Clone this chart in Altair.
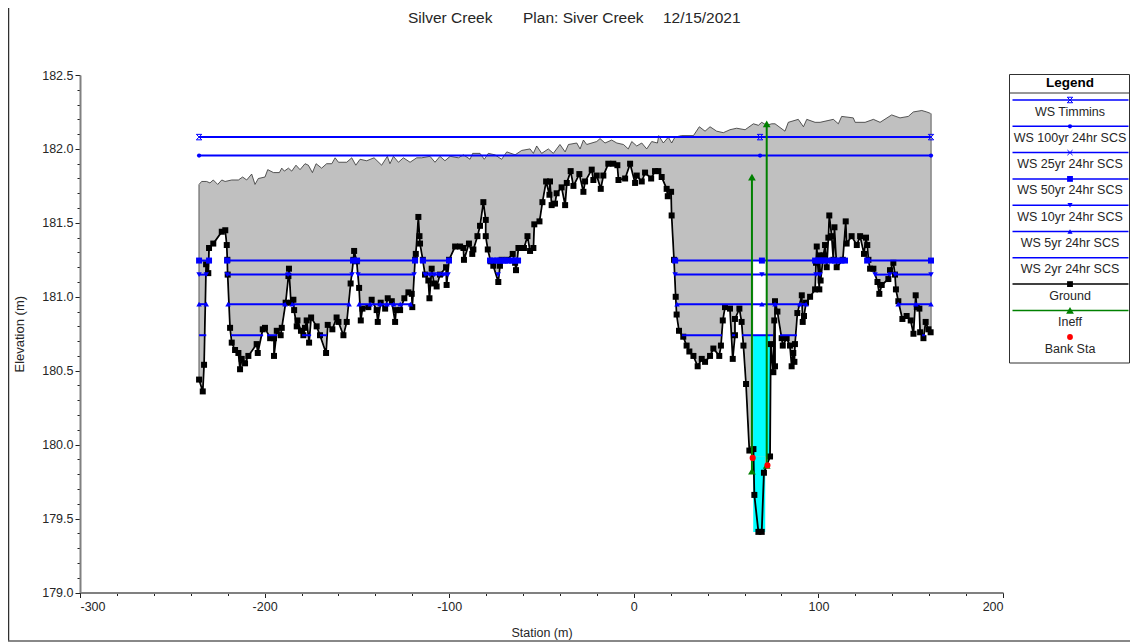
import altair as alt
import pandas as pd

ground_station = [-235.5,-233.5,-232.8,-231.7,-230.5,-230.1,-227.8,-223.2,-221.3,-220.5,-220.2,-220,-218.7,-217.8,-216,-214.2,-213.3,-212.4,-210.6,-208.8,-204.3,-203.7,-201,-199.8,-197,-194.9,-194.9,-193.4,-191.3,-190.7,-188.6,-187.1,-186.8,-185.7,-184.4,-184,-182.6,-182.2,-180.3,-179,-178.1,-177.2,-175.9,-174.8,-171.8,-170,-166.7,-165.8,-163.3,-161,-160,-157.3,-155.5,-153.4,-151.9,-151.5,-150.1,-148.8,-147.9,-147,-143.8,-142,-139.3,-138.7,-137.1,-134.7,-133.3,-131.1,-129.3,-128.8,-126.6,-124.3,-122.1,-120.3,-120,-118.5,-118.1,-116.7,-116.1,-115.8,-114.3,-113.1,-111.3,-110.7,
-109.5,-108.2,-106.8,-105,-101.7,-101.4,-100.1,-96.8,-94.1,-92.3,-92,-89.3,-87.5,-86.9,-84.7,-83.3,-81.5,-80.2,-80.2,-79.1,-77.5,-76.1,-73.4,-72.5,-71.6,-68.5,-65.6,-64.3,-63.8,-62.5,-59.5,-57.6,-56.2,-54.4,-53.9,-51.1,-49.5,-47.5,-45.7,-45.4,-44.5,-42.7,-41.8,-39.1,-37.2,-36.3,-34.2,-32.7,-29.5,-27.3,-26.4,-22.8,-21.9,-20.1,-17.9,-16.5,-13.8,-11.1,-8.9,-8.3,-4.7,-2,0.7,1.6,4.3,6.1,9.4,11.5,13.3,
15.1,17.8,18.4,20.2,20.5,21.8,22.7,23.2,24.5,26.8,28.6,30.1,32.3,34.6,36.8,38.6,41.3,43.1,46.3,47.2,48.2,49.4,52.1,53.6,54.8,54.8,57.2,58.4,59.4,60.8,62.6,64.8,65.3,67.5,69.3,70.5,73.8,74.2,75.6,76.1,76.5,76.5,77.8,80.1,80.7,82.8,84.6,85.5,86.4,87,87.3,88.6,91,91.5,92.2,93.3,95.5,98.2,98.7,99.1,100.5,100.5,101.2,102.7,103.6,104.5,105.4,105.9,107.2,108.1,108.7,109.9,113.2,114.8,115.3,118,120.8,122.6,124.7,125.8,126.5,127.1,128,129.8,132,133,134.3,137.9,138.8,140.6,141.5,142,143.3,145.5,147.8,150,151.5,152.7,153.3,154.7,155.1,156.9,158.1,159.6,160.8]
ground_elev = [180.44,180.36,180.54,181.22,181.16,181.33,181.36,181.44,181.45,181.35,181.25,181.15,180.79,180.69,180.64,180.62,180.51,180.58,180.55,180.60,180.68,180.62,180.78,180.79,180.72,180.72,180.60,180.77,180.74,180.79,180.96,181.14,181.19,180.96,180.98,180.91,180.80,180.84,180.77,180.74,180.79,180.84,180.69,180.86,180.80,180.74,180.62,180.81,180.78,180.86,180.83,180.74,180.83,181.09,181.25,181.31,181.24,181.06,180.84,180.92,180.93,180.98,180.91,180.83,180.96,180.92,180.99,180.97,180.83,180.91,180.91,180.99,181.03,181.02,180.93,181.25,181.29,181.54,181.41,181.36,181.25,181.15,181.11,180.99,
181.19,181.09,181.07,181.15,181.20,181.08,181.25,181.34,181.34,181.33,181.25,181.36,181.29,181.32,181.41,181.48,181.64,181.52,181.41,181.32,181.24,181.21,181.10,181.21,181.25,181.25,181.29,181.23,181.18,181.33,181.33,181.41,181.31,181.33,181.49,181.51,181.64,181.78,181.69,181.78,181.62,181.63,181.70,181.74,181.62,181.77,181.85,181.75,181.83,181.71,181.78,181.86,181.79,181.82,181.73,181.82,181.90,181.90,181.89,181.79,181.80,181.90,181.77,181.82,181.78,181.84,181.80,181.85,181.85,
181.81,181.73,181.68,181.71,181.55,181.25,181.0,180.88,180.77,180.73,180.67,180.63,180.60,180.53,180.58,180.56,180.60,180.65,180.6,180.67,180.84,180.93,180.92,180.58,180.74,180.85,180.92,180.83,180.67,180.41,179.96,179.97,179.66,179.41,179.41,179.81,179.92,180.68,180.49,180.84,180.53,180.97,180.90,180.72,180.67,180.72,180.67,180.53,180.62,180.56,180.68,180.89,181.01,180.83,180.87,180.96,181.0,181.05,181.23,181.34,181.05,181.28,181.11,181.28,181.35,181.2,181.40,181.55,181.41,181.25,181.47,181.2,181.25,181.51,181.36,181.41,181.35,181.41,181.29,181.4,181.35,181.25,181.19,181.19,181.10,181.02,181.08,181.12,181.18,181.23,181.15,181.05,180.97,180.85,180.87,180.84,180.75,181.01,180.93,180.92,180.76,180.72,180.83,180.78,180.76]

top_station = [-235.5,-234.1,-231.4,-229.6,-227.8,-225.4,-223.2,-221.4,-217.8,-214.2,-211.9,-209.7,-207,-205.2,-203.4,-199.8,-198.3,-195.2,-192,-190.7,-189.3,-187.1,-185.3,-183,-180.8,-178.1,-176.3,-174.1,-172.1,-169.1,-166.4,-163.6,-161.8,-160,-155.5,-152.8,-150.6,-148.3,-144.7,-140.7,-136.6,-133.5,-132.1,-130.2,-127.5,-124.8,-121.2,-117.6,-114.9,-110.4,
-107.7,-105,-102.3,-99.5,-95,-92.3,-88.7,-87.3,-83.3,-81,-78.8,-75.2,-71.6,-68.8,-64.3,-60.7,-56.2,-54.4,-52.6,-49.9,-46.3,-43.6,-40,-37.2,-35.4,-30.9,-29.1,-27.3,-25.5,-20.1,-18.3,-15.6,-12,-9.2,-5.6,-3,-1.1,1.6,4.3,7,9.7,12.8,13.5,16,18.7,
20.5,22.3,25.9,32.3,35.5,38.6,41.3,44.9,48.5,52.1,55.7,60.3,64.8,67.5,69.3,72,74.7,76.5,81.9,83.7,89.1,91.9,93.7,98.2,100.9,108.1,110.8,112.6,118.9,119.9,125.3,129.8,133.4,139.7,144.2,148.7,151.4,156,158.7,160.8]
top_elev = [181.76,181.78,181.78,181.77,181.79,181.76,181.79,181.78,181.79,181.79,181.81,181.79,181.83,181.76,181.80,181.81,181.86,181.84,181.84,181.87,181.85,181.87,181.85,181.89,181.86,181.90,181.89,181.84,181.90,181.87,181.90,181.90,181.94,181.91,181.91,181.94,181.89,181.93,181.92,181.94,181.89,181.95,181.90,181.95,181.91,181.94,181.91,181.94,181.94,181.95,
181.91,181.95,181.92,181.95,181.94,181.96,181.93,181.97,181.97,181.93,181.97,181.96,181.93,181.98,181.96,181.99,182.0,181.97,182.02,181.97,182.0,181.97,182.03,181.98,182.03,182.04,182.0,182.06,182.03,182.05,182.07,182.04,182.06,182.04,182.03,182.0,182.05,182.02,182.04,182.0,182.05,182.04,182.09,182.04,182.08,
182.04,182.08,182.09,182.09,182.15,182.12,182.15,182.12,182.11,182.13,182.14,182.13,182.17,182.16,182.18,182.16,182.17,182.17,182.12,182.18,182.2,182.15,182.2,182.18,182.18,182.2,182.17,182.22,182.21,182.18,182.18,182.2,182.18,182.23,182.21,182.22,182.25,182.26,182.25,182.24]

levels = {"timmins": 182.08, "ws100": 181.955, "ws50": 181.245, "ws10": 181.15, "ws5": 180.95, "ws2": 180.74}
segments = {
    "timmins": [(-235.5, 161)],
    "ws100": [(-235.5, 161)],
    "ws50": [(-235.5,-230.1),(-220.3,-152.1),(-149.9,-118.5),(-114.2,-100.1),(-77.9,-70.8),(-69.7,-62.7),(22.4,104.7),(107.4,114.4),(126.4,161)],
    "ws10": [(-235.5,-231.6),(-220.3,-152.6),(-149.4,-119),(-113.1,-100.6),(22.4,100.9),(130.7,138.8),(141.5,161)],
    "ws5": [(-235.5,-231.6),(-219.8,-188.9),(-185.1,-154.2),(-148.8,-120.1),(23.4,90.9),(90.9,93.3),(143.2,161)],
    "ws2": [(-235.5,-231.6),(-218.2,-200.8),(-198.7,-193.2),(-179.7,-174.8),(-170,-166.2),(26.1,47.8),(53.2,54.9),(58.6,75.4),(79.2,88.4),(156.2,157.8)],
}
markers = {
    "timmins": [-235.5, 68.4, 161],
    "ws100": [-235.5, 68.4, 161],
    "ws50": [-235.5,-230.1,-220.3,-152.1,-149.9,-118.5,-114.2,-100.1,-77.9,-76,-74,-72.5,-70.8,-69.7,-68,-66,-64.5,-62.7,22.4,69.4,98.2,100,101.5,103,104.7,107.4,109,111,112.5,114.4,126.4,161],
    "ws10": [-235.5,-231.6,-220.3,-187.3,-152.6,-149.4,-119,-113.1,-110.5,-108,-105.5,-103,-100.6,-73.5,22.4,69.4,98.7,100.9,130.7,138.8,141.5,161],
    "ws5": [-235.5,-231.6,-219.8,-188.9,-185.1,-154.2,-148.8,-142.8,-137.4,-133.7,-130.1,-126.5,-121,23.4,69.4,76.5,89.9,93.3,143.2,152.8,161],
}
shapes = {"timmins": "M-1,-1L1,-1L-1,1L1,1Z", "ws100": "circle", "ws50": "square", "ws10": "triangle-down", "ws5": "triangle-up"}
sizes = {"timmins": 30, "ws100": 18, "ws50": 36, "ws10": 30, "ws5": 30}

ineff_station = [64, 64, 72, 72]
ineff_elev = [179.82, 181.81, 179.86, 182.17]
ineff_id = ["a", "a", "b", "b"]
bank_station = [64.4, 72.4]
bank_elev = [179.91, 179.86]

xticks = list(range(-300, 201, 20))
yticks = [round(179 + i * 0.1, 1) for i in range(36)]

legend_rows = [
    ("WS Timmins", "#0000ff", "M-1,-1L1,-1L-1,1L1,1Z", 30, False),
    ("WS 100yr 24hr SCS", "#0000ff", "circle", 18, True),
    ("WS 25yr 24hr SCS", "#0000ff", "M-1,-1L1,1M1,-1L-1,1", 26, False),
    ("WS 50yr 24hr SCS", "#0000ff", "square", 34, True),
    ("WS 10yr 24hr SCS", "#0000ff", "triangle-down", 26, True),
    ("WS 5yr 24hr SCS", "#0000ff", "triangle-up", 26, True),
    ("WS 2yr 24hr SCS", "#0000ff", None, 0, True),
    ("Ground", "#000000", "square", 34, True),
    ("Ineff", "#008000", "triangle-up", 60, True),
]

FONT = "Liberation Sans"
TXT = "#262626"
X0, Y0 = 80, 75
xs = alt.Scale(domain=[-300, 200], nice=False, zero=False)
ys = alt.Scale(domain=[179, 182.5], nice=False, zero=False)

x_axis = alt.Axis(values=xticks, title="Station (m)", grid=False, labelFont=FONT, labelFontSize=12.5, labelColor=TXT,
                  titleFont=FONT, titleFontSize=12.5, titleFontWeight="normal", titleColor=TXT, titlePadding=13,
                  domainColor="#808080", domainWidth=2, tickColor="#202020", labelOverlap=False, labelPadding=3,
                  tickSize={"condition": {"test": "datum.value % 100 === 0", "value": 5}, "value": 3},
                  labelExpr="datum.value % 100 === 0 ? '' + datum.value : ''", zindex=1)
y_axis = alt.Axis(values=yticks, title="Elevation (m)", grid=False, labelFont=FONT, labelFontSize=12.5, labelColor=TXT,
                  titleFont=FONT, titleFontSize=13, titleFontWeight="normal", titleColor=TXT, titlePadding=15,
                  domainColor="#808080", domainWidth=2, tickColor="#202020", labelOverlap=False, labelPadding=2,
                  tickSize={"condition": {"test": "abs(datum.value*2-round(datum.value*2))<0.01", "value": 5}, "value": 3},
                  labelExpr="abs(datum.value*2-round(datum.value*2))<0.01 ? datum.label : ''", format=".1f", zindex=1)


def X(f="s"):
    return alt.X(f"{f}:Q", scale=xs, axis=x_axis)


def Y(f="e"):
    return alt.Y(f"{f}:Q", scale=ys, axis=y_axis)


ground = pd.DataFrame({"s": ground_station, "e": ground_elev})
top = pd.DataFrame({"s": top_station, "e": top_elev})
one = pd.DataFrame({"a": [0]})

layers = []
layers.append(alt.Chart(top).mark_area(color="#c0c0c0", opacity=1).encode(x=X(), y=Y(), y2=alt.datum(179)))
layers.append(alt.Chart(ground).mark_area(color="#ffffff", opacity=1, stroke="#ffffff", strokeWidth=2).encode(x=X(), y=Y(), y2=alt.datum(179)))
box = pd.DataFrame({"s": [64.7], "s2": [71.6], "e": [180.74], "e2": [181.25]})
layers.append(alt.Chart(box).mark_rect(color="#ffffff").encode(x=X(), x2="s2:Q", y=Y(), y2="e2:Q"))
water = pd.DataFrame({"s": [64.7, 64.7], "s2": [73.8, 71.2], "e": [180.74, 179.92], "e2": [179.92, 179.41]})
layers.append(alt.Chart(water).mark_rect(color="#00ffff").encode(x=X(), x2="s2:Q", y=Y(), y2="e2:Q"))
layers.append(alt.Chart(top).mark_line(color="#303030", strokeWidth=0.8).encode(x=X(), y=Y()))
walls = pd.DataFrame({"s": [-235.5, 161], "e": [181.76, 182.24], "e2": [180.44, 180.76]})
layers.append(alt.Chart(walls).mark_rule(color="#808080", strokeWidth=1.5).encode(x=X(), y=Y(), y2="e2:Q"))
layers.append(alt.Chart(ground).mark_line(color="#000000", strokeWidth=1.8).encode(x=X(), y=Y()))
layers.append(alt.Chart(ground).mark_point(shape="square", filled=True, color="#000000", size=36, opacity=1).encode(x=X(), y=Y()))
for key, lvl in levels.items():
    rows = []
    for i, (a, b) in enumerate(segments[key]):
        rows += [{"s": a, "e": lvl, "g": i}, {"s": b, "e": lvl, "g": i}]
    layers.append(alt.Chart(pd.DataFrame(rows)).mark_line(color="#0000ff", strokeWidth=2).encode(x=X(), y=Y(), detail="g:N"))
    if key in markers:
        mk = pd.DataFrame({"s": markers[key], "e": [lvl] * len(markers[key])})
        if key == "timmins":
            m = alt.Chart(mk).mark_point(shape=shapes[key], size=sizes[key], color="#0000ff", filled=False, opacity=1, strokeWidth=1)
        else:
            m = alt.Chart(mk).mark_point(shape=shapes[key], size=sizes[key], color="#0000ff", filled=True, opacity=1)
        layers.append(m.encode(x=X(), y=Y()))
ineff = pd.DataFrame({"s": ineff_station, "e": ineff_elev, "g": ineff_id})
layers.append(alt.Chart(ineff).mark_line(color="#008000", strokeWidth=2).encode(x=X(), y=Y(), detail="g:N"))
layers.append(alt.Chart(ineff).mark_point(shape="triangle-up", filled=True, size=60, color="#008000", opacity=1).encode(x=X(), y=Y()))
bank = pd.DataFrame({"s": bank_station, "e": bank_elev})
layers.append(alt.Chart(bank).mark_point(shape="circle", filled=True, size=38, color="#ff0000", opacity=1).encode(x=X(), y=Y()))


def px(x):
    return alt.value(x - X0)


def py(y):
    return alt.value(y - Y0)


def text(t, x, y, align="center", size=12.5, weight="normal", color=TXT):
    return alt.Chart(one).mark_text(text=t, font=FONT, fontSize=size, fontWeight=weight, color=color, align=align, baseline="middle").encode(x=px(x), y=py(y))


layers.append(text("Silver Creek", 408, 18, "left", 15.5))
layers.append(text("Plan: Siver Creek", 523, 18, "left", 15.5))
layers.append(text("12/15/2021", 663, 18, "left", 15.5))
layers.append(alt.Chart(one).mark_rule(color="#303030", strokeWidth=1.5).encode(x=px(8.5), y=py(8), y2=py(641)))
layers.append(alt.Chart(one).mark_rule(color="#606060", strokeWidth=1.5).encode(x=px(8), x2=px(1130), y=py(641)))
LX0, LX1, LC = 1009.5, 1129.5, 1070
layers.append(alt.Chart(one).mark_rect(fill="#ffffff", stroke="#303030", strokeWidth=1).encode(x=px(LX0), x2=px(LX1), y=py(74.5), y2=py(363)))
layers.append(alt.Chart(one).mark_rule(color="#303030", strokeWidth=1).encode(x=px(LX0), x2=px(LX1), y=py(93)))
layers.append(text("Legend", LC, 82.5, size=13.5, weight="bold", color="#000000"))
for i, (name, col, shp, sz, filled) in enumerate(legend_rows):
    ly = 100 + 26.3 * i
    layers.append(alt.Chart(one).mark_rule(color=col, strokeWidth=1.5).encode(x=px(LX0 + 3), x2=px(LX1 - 1), y=py(ly)))
    if shp:
        layers.append(alt.Chart(one).mark_point(shape=shp, size=sz, color=col, filled=filled, opacity=1, strokeWidth=1).encode(x=px(LC), y=py(ly)))
    layers.append(text(name, LC, ly + 11.5))
layers.append(alt.Chart(one).mark_point(shape="circle", size=34, color="#ff0000", filled=True, opacity=1).encode(x=px(LC), y=py(337)))
layers.append(text("Bank Sta", LC, 349))

chart = alt.layer(*layers).properties(
    width=923, height=517.5,
    autosize=alt.AutoSizeParams(type="none"),
    padding={"left": 72, "top": 67, "right": 127, "bottom": 50},
    background="#ffffff",
).configure_view(stroke=None)

chart.save("out.html", embed_options={"renderer": "svg", "actions": False})
